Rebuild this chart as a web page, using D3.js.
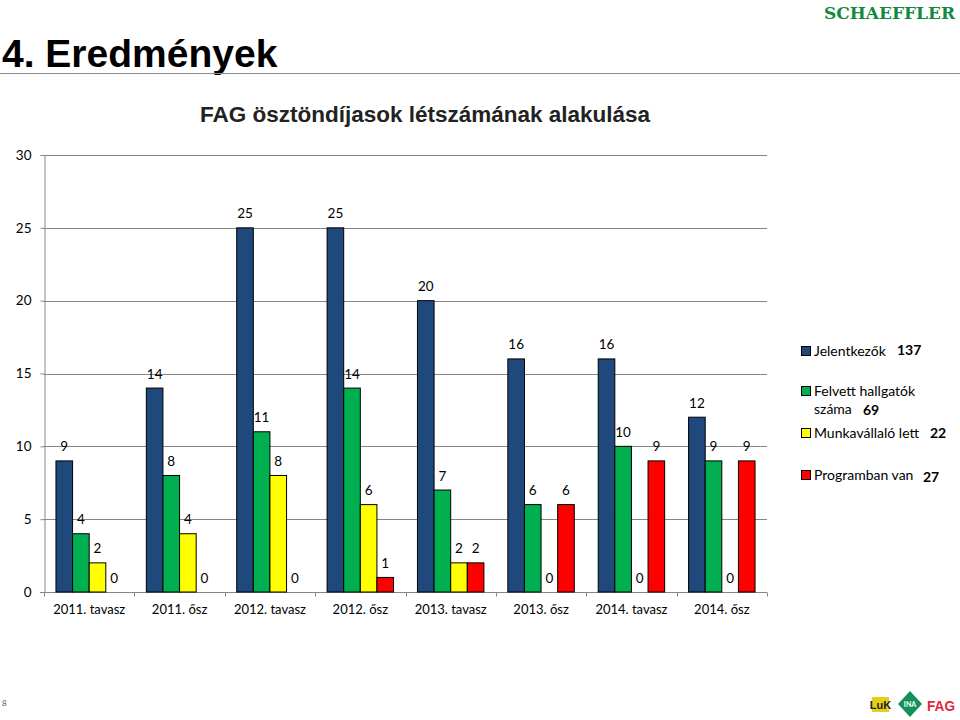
<!DOCTYPE html>
<html>
<head>
<meta charset="utf-8">
<script src="https://cdn.jsdelivr.net/npm/d3@7"></script>
<style>
  body { margin: 0; background: #fff; }
  svg { display: block; }
  text { font-family: Lato, 'Open Sans', sans-serif; }
</style>
</head>
<body>
<svg id="chart" width="960" height="720"></svg>
<script>
// ------------------------------- DATA below ----------------------------------------------

const categories = ['2011. tavasz', '2011. ősz', '2012. tavasz', '2012. ősz', '2013. tavasz', '2013. ősz', '2014. tavasz', '2014. ősz'];
const seriesNames = ['Jelentkezők', 'Felvett hallgatók száma', 'Munkavállaló lett', 'Programban van'];
const jelentkezok = [9, 14, 25, 25, 20, 16, 16, 12];
const felvett = [4, 8, 11, 14, 7, 6, 10, 9];
const munkavallalo = [2, 4, 8, 6, 2, 0, 0, 0];
const programban = [0, 0, 0, 1, 2, 6, 9, 9];
const yTicks = [0, 5, 10, 15, 20, 25, 30];
const colors = ['#1f497d', '#00b050', '#ffff00', '#ff0000'];

// table for d3 - one row per category
const series = [jelentkezok, felvett, munkavallalo, programban];
const rows = categories.map((c, i) => ({
  cat: c,
  values: series.map((s, k) => ({ key: seriesNames[k], value: s[i], color: colors[k] })),
}));

// ------------------------------- PAGE below ----------------------------------------------

const svg = d3.select('#chart');

svg.append('text')
  .attr('x', 2).attr('y', 67)
  .style('font-family', "'Liberation Sans', Arial, sans-serif")
  .style('font-size', '39px').style('font-weight', 'bold')
  .text('4. Eredmények');

svg.append('line')
  .attr('x1', 0).attr('x2', 960).attr('y1', 73.5).attr('y2', 73.5)
  .attr('stroke', '#8c8c8c').attr('stroke-width', 1);

// schaeffler logo (text)
svg.append('text')
  .attr('x', 824).attr('y', 19)
  .attr('textLength', 131).attr('lengthAdjust', 'spacingAndGlyphs')
  .style('font-family', "'DejaVu Serif', serif")
  .style('font-size', '17px').style('font-weight', 'bold')
  .attr('fill', '#12893d')
  .text('SCHAEFFLER');

svg.append('text')
  .attr('x', 425).attr('y', 122)
  .attr('text-anchor', 'middle')
  .style('font-family', "'Liberation Sans', Arial, sans-serif")
  .style('font-size', '22.5px').style('font-weight', 'bold')
  .attr('fill', '#222')
  .text('FAG ösztöndíjasok létszámának alakulása');

// ------------------------------- D3 * CHART ----------------------------------------------

const plotLeft = 44, plotRight = 767, plotTop = 155, plotBottom = 592;

const x0 = d3.scaleBand().domain(categories).range([plotLeft, plotRight]).padding(0);
const x1 = d3.scaleBand().domain(seriesNames).range([0, x0.bandwidth()]).paddingInner(0).paddingOuter(0.72);
const y = d3.scaleLinear().domain([0, 30]).range([plotBottom, plotTop]);

// gridlines
svg.append('g')
  .selectAll('line')
  .data(yTicks.filter((t) => t > 0))
  .join('line')
  .attr('x1', plotLeft).attr('x2', plotRight)
  .attr('y1', (d) => Math.round(y(d)) + 0.5).attr('y2', (d) => Math.round(y(d)) + 0.5)
  .attr('stroke', '#868686');

// y axis
const yAxis = svg.append('g')
  .attr('transform', `translate(${plotLeft + 0.5},0)`)
  .call(d3.axisLeft(y).tickValues(yTicks).tickSize(4).tickPadding(9));
yAxis.select('.domain').attr('stroke', '#868686');
yAxis.selectAll('.tick line').attr('stroke', '#868686');
yAxis.selectAll('text').style('font-size', '13.5px').attr('fill', '#000').style('font-family', "Lato, 'Open Sans', sans-serif");

// x axis - ticks at category boundaries
const xAxis = svg.append('g').attr('transform', `translate(0,${plotBottom + 0.5})`);
xAxis.append('line')
  .attr('x1', plotLeft - 4).attr('x2', plotRight).attr('stroke', '#868686');
xAxis.selectAll('line.tk')
  .data(d3.range(categories.length + 1))
  .join('line')
  .attr('class', 'tk')
  .attr('x1', (i) => Math.round(plotLeft + i * x0.step()) + 0.5)
  .attr('x2', (i) => Math.round(plotLeft + i * x0.step()) + 0.5)
  .attr('y1', 0).attr('y2', 4)
  .attr('stroke', '#868686');
xAxis.selectAll('text')
  .data(categories)
  .join('text')
  .attr('x', (d) => x0(d) + x0.bandwidth() / 2)
  .attr('y', 21.5)
  .attr('text-anchor', 'middle')
  .style('font-size', '13px')
  .text((d) => d);

// bars
const groups = svg.append('g')
  .selectAll('g')
  .data(rows)
  .join('g')
  .attr('transform', (d) => `translate(${x0(d.cat)},0)`);

groups.selectAll('rect')
  .data((d) => d.values.filter((v) => v.value > 0))
  .join('rect')
  .attr('x', (d) => x1(d.key))
  .attr('y', (d) => y(d.value))
  .attr('width', x1.bandwidth())
  .attr('height', (d) => plotBottom - y(d.value))
  .attr('fill', (d) => d.color)
  .attr('stroke', '#000')
  .attr('stroke-width', 1);

groups.selectAll('text')
  .data((d) => d.values)
  .join('text')
  .attr('x', (d) => x1(d.key) + x1.bandwidth() / 2)
  .attr('y', (d) => y(d.value) - 9.5)
  .attr('text-anchor', 'middle')
  .style('font-size', '13.5px')
  .text((d) => d.value);

// ------------------------------- LEGEND ----------------------------------------------

const legendItems = [
  { lines: ['Jelentkezők'], y: 351, total: d3.sum(jelentkezok), tx: 897, ty: 355 },
  { lines: ['Felvett hallgatók', 'száma'], y: 391, total: d3.sum(felvett), tx: 863, ty: 415 },
  { lines: ['Munkavállaló lett'], y: 433, total: d3.sum(munkavallalo), tx: 930, ty: 438 },
  { lines: ['Programban van'], y: 475, total: d3.sum(programban), tx: 923, ty: 482 },
];

const legend = svg.append('g')
  .selectAll('g')
  .data(legendItems)
  .join('g');

legend.append('rect')
  .attr('x', 801.5).attr('y', (d) => d.y - 4.5)
  .attr('width', 9).attr('height', 9)
  .attr('fill', (d, i) => colors[i])
  .attr('stroke', '#000');

legend.each(function (d) {
  const g = d3.select(this);
  d.lines.forEach((line, j) => {
    g.append('text')
      .attr('x', 814).attr('y', d.y + 5 + j * 18)
      .style('font-size', '14px')
      .text(line);
  });
  g.append('text')
    .attr('x', d.tx).attr('y', d.ty)
    .style('font-size', '14px').style('font-weight', 'bold')
    .text(d.total);
});

// ------------------------------- FOOTER ----------------------------------------------

svg.append('text')
  .attr('x', 2).attr('y', 706)
  .style('font-size', '8px').attr('fill', '#555')
  .text('8');

// LuK logo
svg.append('rect').attr('x', 872).attr('y', 697).attr('width', 17).attr('height', 15).attr('fill', '#e6cf1c');
svg.append('text').attr('x', 880.5).attr('y', 709).attr('text-anchor', 'middle')
  .style('font-family', "'Liberation Sans Narrow', 'Liberation Sans', sans-serif")
  .style('font-size', '11px').style('font-weight', 'bold').attr('fill', '#222').text('LuK');

// INA diamond
svg.append('path').attr('d', 'M910,691 L922,704 L910,717 L898,704 Z').attr('fill', '#13915a');
svg.append('text').attr('x', 910).attr('y', 707).attr('text-anchor', 'middle')
  .style('font-size', '7px').style('font-weight', 'bold').attr('fill', '#fff').text('INA');

// FAG
svg.append('text').attr('x', 927).attr('y', 711)
  .attr('textLength', 28).attr('lengthAdjust', 'spacingAndGlyphs')
  .style('font-family', "'Liberation Sans', sans-serif")
  .style('font-size', '15px').style('font-weight', 'bold').attr('fill', '#e0283c').text('FAG');
</script>
</body>
</html>
